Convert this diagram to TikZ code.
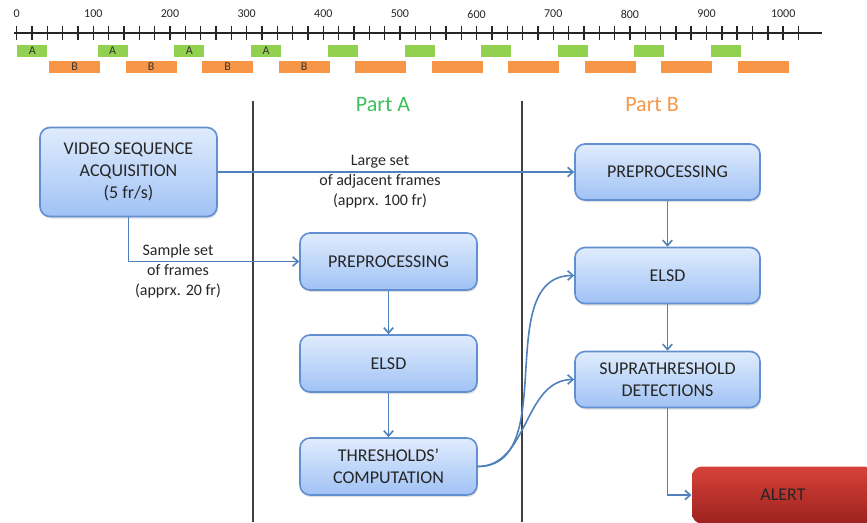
\documentclass[tikz,border=0pt]{standalone}
\usepackage{fontspec}
\setmainfont{Carlito}
\usetikzlibrary{arrows.meta,shadows}

\definecolor{flowblue}{RGB}{79,129,189}
\definecolor{boxedge}{RGB}{98,143,208}
\definecolor{boxtop}{RGB}{224,236,253}
\definecolor{boxbot}{RGB}{160,194,245}
\definecolor{alerttop}{RGB}{214,66,58}
\definecolor{alertbot}{RGB}{158,34,30}
\definecolor{bargreen}{RGB}{146,208,80}
\definecolor{barorange}{RGB}{247,150,70}
\definecolor{partA}{RGB}{62,190,92}
\definecolor{partB}{RGB}{247,150,70}

\tikzset{every picture/.style={line width=0.75pt}}
\tikzset{
  stagebox/.style={draw=boxedge, line width=1.2pt, rounded corners=7.5pt,
    top color=boxtop, bottom color=boxbot,
    drop shadow={opacity=0.25, shadow xshift=0.8pt, shadow yshift=-1.5pt},
    align=center, inner sep=0pt, text=black!85,
    font=\fontsize{13.5}{16.5}\selectfont},
  alertbox/.style={rounded corners=7.5pt, top color=alerttop, bottom color=alertbot,
    drop shadow={opacity=0.25, shadow xshift=0.8pt, shadow yshift=-1.5pt},
    inner sep=0pt, text=black!85, font=\fontsize{13.5}{16.5}\selectfont},
  flow/.style={draw=flowblue, line width=1.2pt, -{Straight Barb[length=4pt,width=7pt]}},
  note/.style={align=center, inner sep=0pt, text=black!85, font=\fontsize{12}{15}\selectfont},
  parttitle/.style={inner sep=0pt, font=\fontsize{16.5}{18}\selectfont},
  axlabel/.style={inner sep=0pt, text=black!85, font=\fontsize{9}{10}\selectfont},
  abar/.style={fill=bargreen, inner sep=0pt, minimum width=22.5pt, minimum height=8.8pt,
    text=black!80, font=\fontsize{9}{9}\selectfont},
  bbar/.style={fill=barorange, inner sep=0pt, minimum width=38.6pt, minimum height=8.8pt,
    text=black!80, font=\fontsize{9}{9}\selectfont},
  tick/.style={line width=1.1pt, black!85}
}

\begin{document}
\begin{tikzpicture}[x=0.75pt,y=0.75pt,yscale=-1,xscale=1]
\useasboundingbox (0,0) rectangle (867,522);

%Shape: Time axis
\draw [line width=1.5pt, black!85] (14,33) -- (822,33) ;
\foreach \i in {0,...,51}
  \draw [tick] ({16.7+15.33*\i},26) -- ({16.7+15.33*\i},40) ;
\foreach \v in {0,100,...,1000}
  \node [axlabel] (lab\v) at ({16.7+0.7665*\v},14) {\v};

%Shape: Frame bars
\foreach \s [count=\k] in {17.3,97.7,174.3,251,328,405,481,557.7,634.3,711}
  \node [abar] (a\k) at (\s+15,51) {\ifnum\k<5 A\fi};
\foreach \s [count=\k] in {49,125.5,202,278.5,355,431.5,508,584.5,661,737.5}
  \node [bbar] (b\k) at (\s+25.75,67) {\ifnum\k<5 B\fi};

%Straight Lines: dividers
\draw [line width=1pt, black!75] (253,101) -- (253,522) ;
\draw [line width=1pt, black!75] (522,101) -- (522,522) ;

% Text Node
\node [parttitle, text=partA] (partA) at (383,105) {Part A};
% Text Node
\node [parttitle, text=partB] (partB) at (652,105) {Part B};

%Shape: Boxes
\node [stagebox, minimum width=132.75pt, minimum height=66.75pt] (vid) at (128.5,172)
  {VIDEO SEQUENCE\\ACQUISITION\\(5 fr/s)};
\node [stagebox, minimum width=132.75pt, minimum height=42.75pt] (preA) at (388.5,261.5) {PREPROCESSING};
\node [stagebox, minimum width=132.75pt, minimum height=42.75pt] (elsdA) at (388.5,363.5) {ELSD};
\node [stagebox, minimum width=132.75pt, minimum height=42.75pt] (thr) at (388.5,466.5)
  {THRESHOLDS'\\COMPUTATION};
\node [stagebox, minimum width=138.75pt, minimum height=42pt] (preB) at (667.5,172) {PREPROCESSING};
\node [stagebox, minimum width=138.75pt, minimum height=42pt] (elsdB) at (667.5,275.5) {ELSD};
\node [stagebox, minimum width=138.75pt, minimum height=42pt] (supra) at (667.5,379.5)
  {SUPRATHRESHOLD\\DETECTIONS};
\node [alertbox, minimum width=136.5pt, minimum height=42.75pt] (alert) at (783,495) {ALERT};

%Straight Lines: connectors
\draw [flow] (vid.east) -- (preB.west) ;
\draw [flow] (vid.south) |- (preA.west) ;
\draw [flow] (preA) -- (elsdA) ;
\draw [flow] (elsdA) -- (thr) ;
\draw [flow] (preB) -- (elsdB) ;
\draw [flow] (elsdB) -- (supra) ;
\draw [flow] (thr.east) to [out=0,in=180] (elsdB.west) ;
\draw [flow] (thr.east) to [out=0,in=180] (supra.west) ;
\draw [flow] (supra.south) |- (alert.west) ;

% Text Node
\node [note] (large) at (380,182) {Large set\\of adjacent frames\\(apprx. 100 fr)};
% Text Node
\node [note] (sample) at (178,271) {Sample set\\of frames\\(apprx. 20 fr)};

\end{tikzpicture}
\end{document}
